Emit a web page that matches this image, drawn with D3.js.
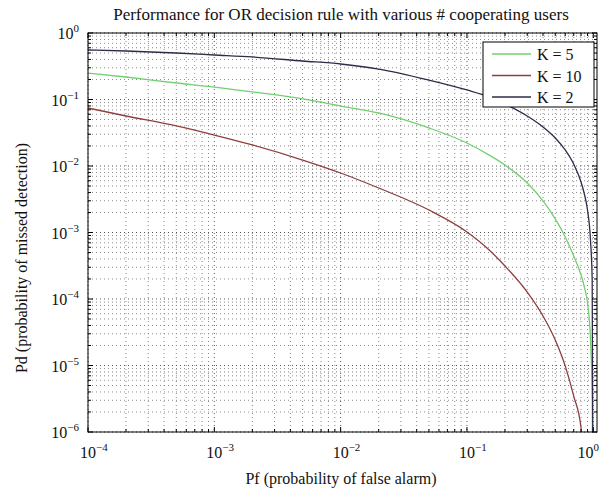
<!DOCTYPE html>
<html>
<head>
<meta charset="utf-8">
<script src="https://cdn.jsdelivr.net/npm/d3@7"></script>
<style>
  body { margin: 0; background: #fff; }
</style>
</head>
<body>
<div id="chart-area"></div>
<script>
// data
const pf = [1e-4, 2e-4, 5e-4, 1e-3, 2e-3, 5e-3, 1e-2, 2e-2, 5e-2, 0.1, 0.15, 0.2,
            0.3, 0.4, 0.5, 0.6, 0.7, 0.8, 0.85, 0.9, 0.95, 0.98, 1.0];
const pdK2 = [0.555, 0.536, 0.500, 0.467, 0.436, 0.379, 0.342, 0.287, 0.196, 0.139, 0.109, 0.0856,
              0.0565, 0.0386, 0.0264, 0.0174, 0.0107, 0.00574, 0.00379, 0.00218, 7.7e-4, 1.93e-4, 1e-8];
const pdK5 = [0.250, 0.218, 0.177, 0.154, 0.130, 0.102, 0.0798, 0.0627, 0.0373, 0.0222, 0.0146, 0.01035,
              0.00555, 0.00298, 0.0016, 8.55e-4, 4.43e-4, 2.30e-4, 1.51e-4, 8.7e-5, 2.5e-5, 3e-6, 1e-8];
const pdK10 = [0.0745, 0.0565, 0.040, 0.0292, 0.0207, 0.0123, 0.00785, 0.00467, 0.00218, 0.00102, 5.46e-4, 3.13e-4,
               1.27e-4, 5.55e-5, 2.42e-5, 9.8e-6, 3.47e-6, 1.15e-6, 3e-7, 1e-8, 1e-9, 1e-9, 1e-9];
const seriesNames = ["K = 5", "K = 10", "K = 2"];
const xTickExps = [-4, -3, -2, -1, 0];
const yTickExps = [-6, -5, -4, -3, -2, -1, 0];

const colors = { "K = 5": "#72cf72", "K = 10": "#8e3e3e", "K = 2": "#2c2c48" };
const seriesData = { "K = 5": pdK5, "K = 10": pdK10, "K = 2": pdK2 };

const svgWidth = 605, svgHeight = 496;
const plot = { left: 88, right: 597, top: 33, bottom: 432 };
const font = "'Liberation Serif', 'Times New Roman', serif";

const svg = d3.select("#chart-area")
  .append("svg")
    .attr("width", svgWidth)
    .attr("height", svgHeight);

const x = d3.scaleLog()
  .domain([1e-4, 1.07])
  .range([plot.left, plot.right]);
const y = d3.scaleLog()
  .domain([1e-6, 1])
  .range([plot.bottom, plot.top]);

// plot background
svg.append("rect")
  .attr("x", plot.left).attr("y", plot.top)
  .attr("width", plot.right - plot.left)
  .attr("height", plot.bottom - plot.top)
  .attr("fill", "#fff");

// minor + major tick positions (1..9 per decade)
const xTicksAll = [];
for (let e = -4; e <= 0; e++) for (let m = 1; m <= 9; m++) {
  const v = m * Math.pow(10, e);
  if (v >= 1e-4 && v <= 1.07) xTicksAll.push({ v, major: m === 1 });
}
const yTicksAll = [];
for (let e = -6; e <= 0; e++) for (let m = 1; m <= 9; m++) {
  const v = m * Math.pow(10, e);
  if (v >= 1e-6 && v <= 1) yTicksAll.push({ v, major: m === 1 });
}

// grid (dotted)
const grid = svg.append("g");
grid.selectAll(".gx")
  .data(xTicksAll)
  .enter().append("line")
    .attr("x1", d => x(d.v)).attr("x2", d => x(d.v))
    .attr("y1", plot.top).attr("y2", plot.bottom)
    .attr("stroke", d => d.major ? "#555" : "#8a8a8a")
    .attr("stroke-width", 1)
    .attr("stroke-dasharray", "1,3");
grid.selectAll(".gy")
  .data(yTicksAll)
  .enter().append("line")
    .attr("y1", d => y(d.v)).attr("y2", d => y(d.v))
    .attr("x1", plot.left).attr("x2", plot.right)
    .attr("stroke", d => d.major ? "#555" : "#8a8a8a")
    .attr("stroke-width", 1)
    .attr("stroke-dasharray", "1,3");

// curves
svg.append("clipPath").attr("id", "clip")
  .append("rect")
    .attr("x", plot.left).attr("y", plot.top)
    .attr("width", plot.right - plot.left)
    .attr("height", plot.bottom - plot.top);

const line = d3.line()
  .x(d => x(d[0]))
  .y(d => y(d[1]))
  .curve(d3.curveMonotoneX);

seriesNames.forEach(name => {
  svg.append("path")
    .datum(pf.map((p, i) => [p, seriesData[name][i]]))
    .attr("clip-path", "url(#clip)")
    .attr("fill", "none")
    .attr("stroke", colors[name])
    .attr("stroke-width", 1.3)
    .attr("stroke-linejoin", "round")
    .attr("d", line);
});

// inside ticks on all four sides
const ticks = svg.append("g").attr("stroke", "#000").attr("stroke-width", 1);
xTicksAll.forEach(d => {
  const len = d.major ? 5 : 3;
  ticks.append("line").attr("x1", x(d.v)).attr("x2", x(d.v))
    .attr("y1", plot.bottom).attr("y2", plot.bottom - len);
  ticks.append("line").attr("x1", x(d.v)).attr("x2", x(d.v))
    .attr("y1", plot.top).attr("y2", plot.top + len);
});
yTicksAll.forEach(d => {
  const len = d.major ? 5 : 3;
  ticks.append("line").attr("y1", y(d.v)).attr("y2", y(d.v))
    .attr("x1", plot.left).attr("x2", plot.left + len);
  ticks.append("line").attr("y1", y(d.v)).attr("y2", y(d.v))
    .attr("x1", plot.right).attr("x2", plot.right - len);
});

// frame
svg.append("rect")
  .attr("x", plot.left).attr("y", plot.top)
  .attr("width", plot.right - plot.left)
  .attr("height", plot.bottom - plot.top)
  .attr("fill", "none")
  .attr("stroke", "#000")
  .attr("stroke-width", 1);

// x tick labels: "10" centred on tick, exponent raised
xTickExps.forEach(e => {
  const t = svg.append("text")
    .attr("x", x(Math.pow(10, e)) - 8)
    .attr("y", 458)
    .attr("font-family", font)
    .attr("font-size", 16)
    .attr("fill", "#111");
  t.append("tspan").text("10");
  t.append("tspan").text(e === 0 ? "0" : "\u2212" + (-e))
    .attr("font-size", 11)
    .attr("dy", -7);
  // keep the last label inside the page
  const len = t.node().getComputedTextLength();
  const x0 = +t.attr("x");
  if (x0 + len > 599) t.attr("x", 599 - len);
});

// y tick labels
yTickExps.forEach(e => {
  const t = svg.append("text")
    .attr("x", 79)
    .attr("y", y(Math.pow(10, e)) + 6)
    .attr("text-anchor", "end")
    .attr("font-family", font)
    .attr("font-size", 16)
    .attr("fill", "#111");
  t.append("tspan").text("10");
  t.append("tspan").text(e === 0 ? "0" : "\u2212" + (-e))
    .attr("font-size", 11)
    .attr("dy", -7);
});

// title
svg.append("text")
  .text("Performance for OR decision rule with various # cooperating users")
  .attr("x", 341)
  .attr("y", 20)
  .attr("text-anchor", "middle")
  .attr("font-family", font)
  .attr("font-size", 17)
  .attr("fill", "#111");

// axis labels
svg.append("text")
  .text("Pf (probability of false alarm)")
  .attr("x", 341)
  .attr("y", 484)
  .attr("text-anchor", "middle")
  .attr("font-family", font)
  .attr("font-size", 16)
  .attr("fill", "#111");
svg.append("text")
  .text("Pd (probability of missed detection)")
  .attr("transform", "translate(27,258) rotate(-90)")
  .attr("text-anchor", "middle")
  .attr("font-family", font)
  .attr("font-size", 16)
  .attr("fill", "#111");

// legend
const legend = svg.append("g");
legend.append("rect")
  .attr("x", 483).attr("y", 42)
  .attr("width", 111).attr("height", 65)
  .attr("fill", "#fff")
  .attr("stroke", "#000")
  .attr("stroke-width", 1);
seriesNames.forEach((name, i) => {
  const cy = 54 + i * 21.5;
  legend.append("line")
    .attr("x1", 492).attr("x2", 531)
    .attr("y1", cy).attr("y2", cy)
    .attr("stroke", colors[name])
    .attr("stroke-width", 1.3);
  legend.append("text")
    .text(name)
    .attr("x", 537)
    .attr("y", cy + 6)
    .attr("font-family", font)
    .attr("font-size", 16)
    .attr("fill", "#111");
});
</script>
</body>
</html>
